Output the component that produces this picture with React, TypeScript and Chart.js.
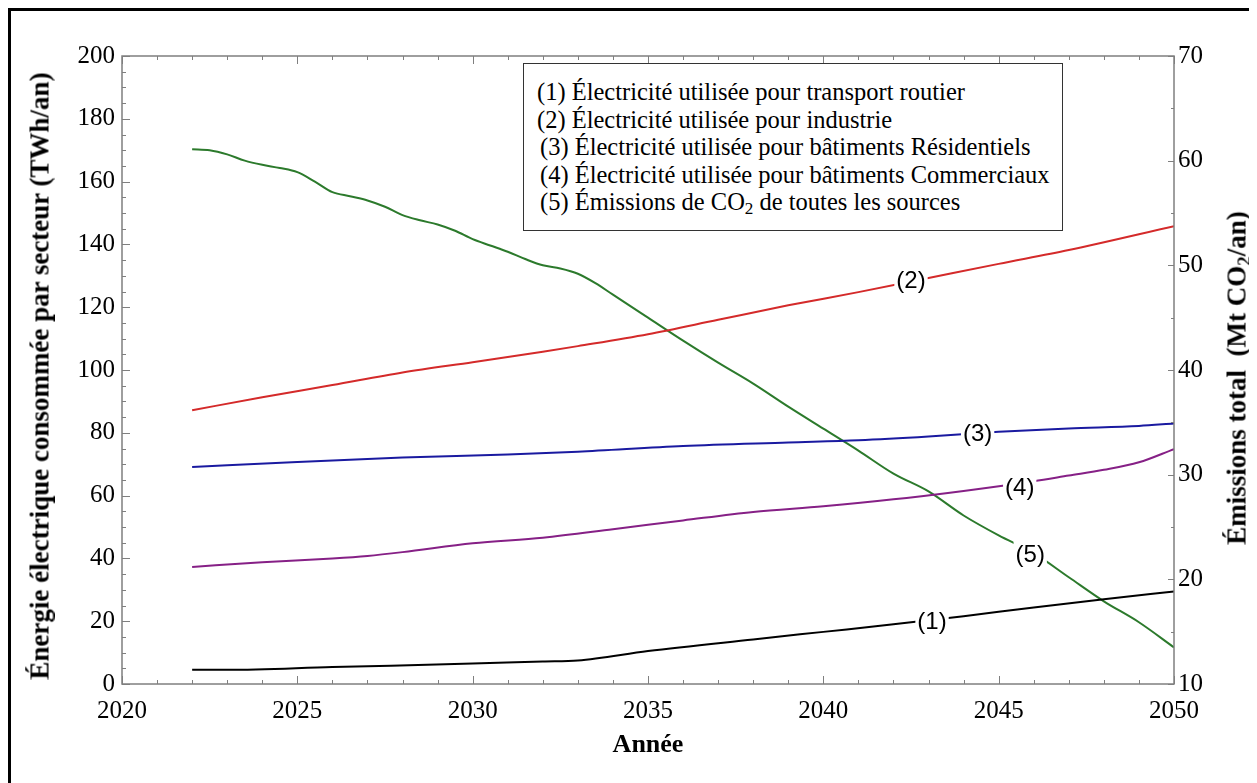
import React, { useEffect, useRef } from "react";
import { Chart, registerables } from "chart.js";
Chart.register(...registerables);

// ---------- DATA ----------
const xTickMin = 2020;
const xTickMax = 2050;
const leftMin = 0;
const leftMax = 200;
const rightMin = 10;
const rightMax = 70;

const transportYears = [2022, 2023, 2026, 2030, 2032, 2033, 2035, 2038, 2040, 2042, 2044, 2046, 2048, 2050];
const transportValues = [4.5, 4.5, 5.4, 6.5, 7.2, 7.5, 10.5, 14.2, 16.6, 19.0, 21.6, 24.4, 27.0, 29.5];

const industryYears = [2022, 2024, 2026, 2028, 2030, 2032, 2033, 2035, 2037, 2039, 2041, 2043, 2045, 2047, 2050];
const industryValues = [87.2, 91.3, 95.2, 99.2, 102.5, 105.8, 107.6, 111.4, 116.0, 120.6, 124.8, 129.3, 133.8, 138.2, 145.8];

const residentialYears = [2022, 2025, 2028, 2031, 2033, 2036, 2039, 2041, 2043, 2045, 2047, 2049, 2050];
const residentialValues = [69.1, 70.7, 72.1, 73.1, 74.0, 75.8, 76.9, 77.6, 78.8, 80.3, 81.4, 82.2, 83.0];

const commercialYears = [2022, 2024, 2026, 2027, 2028, 2030, 2032, 2034, 2036, 2038, 2040, 2042, 2044, 2046, 2047, 2048, 2049, 2050];
const commercialValues = [37.3, 38.8, 40.0, 40.8, 42.0, 44.8, 46.6, 49.3, 52.1, 54.8, 56.6, 58.8, 61.5, 64.6, 66.4, 68.2, 70.6, 74.8];

const emissionsYears = [
  2022, 2022.5, 2023, 2023.5, 2024, 2024.5, 2025, 2025.5, 2026, 2026.5, 2027, 2027.5, 2028, 2028.5,
  2029, 2029.5, 2030, 2030.5, 2031, 2031.5, 2032, 2032.5, 2033, 2033.5, 2034, 2035, 2036, 2037,
  2038, 2039, 2040, 2041, 2042, 2043, 2044, 2045, 2046, 2047, 2048, 2049, 2050,
];
const emissionsValues = [
  61.1, 61.0, 60.6, 60.0, 59.6, 59.3, 58.9, 58.0, 57.0, 56.6, 56.2, 55.6, 54.8, 54.3,
  53.9, 53.3, 52.5, 51.9, 51.3, 50.6, 50.0, 49.7, 49.2, 48.3, 47.2, 45.0, 42.8, 40.7,
  38.7, 36.5, 34.4, 32.3, 30.1, 28.4, 26.1, 24.2, 22.5, 20.2, 17.9, 15.9, 13.5,
];

const seriesNames = [
  "Électricité utilisée pour transport routier",
  "Électricité utilisée pour industrie",
  "Électricité utilisée pour bâtiments Résidentiels",
  "Électricité utilisée pour bâtiments Commerciaux",
  "Émissions de CO2 de toutes les sources",
];
const legendLabels = [
  "(1) Électricité utilisée pour transport routier",
  "(2) Électricité utilisée pour industrie",
  "(3) Électricité utilisée pour bâtiments Résidentiels",
  "(4) Électricité utilisée pour bâtiments Commerciaux",
  "(5) Émissions de CO2 de toutes les sources",
];

const inlineLabelTexts = ["(1)", "(2)", "(3)", "(4)", "(5)"];
const inlineLabelYears = [2043.1, 2042.5, 2044.4, 2045.6, 2045.9];
const inlineLabelValues = [20.0, 128.7, 79.9, 62.7, 22.4];
const inlineLabelAxes = ["y", "y", "y", "y", "y2"];

const xAxisTitle = "Année";
const leftAxisTitle = "Énergie électrique consommée par secteur (TWh/an)";
const rightAxisTitleA = "Émissions total  (Mt CO";
const rightAxisTitleB = "2";
const rightAxisTitleC = "/an)";

// ---------- STYLE ----------
const SERIF = '"Liberation Serif", "Times New Roman", Times, serif';
const SANS = '"Liberation Sans", Arial, Helvetica, sans-serif';
const AXIS_COLOR = "#7f7f7f";
const colors = ["#000000", "#d42a2a", "#1a1aa0", "#862086", "#2c7a2c"];

function pts(xs: number[], ys: number[]) {
  return xs.map((x, i) => ({ x, y: ys[i] }));
}

const framePlugin = {
  id: "frameTicks",
  afterDatasetsDraw(chart: any) {
    const { ctx, chartArea: a, scales } = chart;
    const sx = scales.x, sy = scales.y, sy2 = scales.y2;
    ctx.save();
    // inline labels
    ctx.font = `24px ${SANS}`;
    ctx.textAlign = "center";
    ctx.textBaseline = "middle";
    inlineLabelTexts.forEach((t, i) => {
      const px = sx.getPixelForValue(inlineLabelYears[i]);
      const py = scales[inlineLabelAxes[i]].getPixelForValue(inlineLabelValues[i]);
      const w = ctx.measureText(t).width;
      ctx.fillStyle = "#ffffff";
      ctx.fillRect(px - w / 2 - 2, py - 14, w + 4, 28);
      ctx.fillStyle = "#000000";
      ctx.fillText(t, px, py + 1);
    });
    // frame
    ctx.strokeStyle = AXIS_COLOR;
    ctx.lineWidth = 1.5;
    ctx.strokeRect(a.left, a.top, a.right - a.left, a.bottom - a.top);
    ctx.lineWidth = 1;
    ctx.beginPath();
    const MAJ = 8, MIN = 4;
    for (let v = xTickMin; v <= xTickMax; v += 1) {
      const p = Math.round(sx.getPixelForValue(v)) + 0.5;
      const len = v % 5 === 0 ? MAJ : MIN;
      ctx.moveTo(p, a.bottom); ctx.lineTo(p, a.bottom - len);
      ctx.moveTo(p, a.top); ctx.lineTo(p, a.top + len);
    }
    for (let v = leftMin; v <= leftMax; v += 5) {
      const p = Math.round(sy.getPixelForValue(v)) + 0.5;
      const len = v % 20 === 0 ? MAJ : MIN;
      ctx.moveTo(a.left, p); ctx.lineTo(a.left + len, p);
    }
    for (let v = rightMin; v <= rightMax; v += 5) {
      const p = Math.round(sy2.getPixelForValue(v)) + 0.5;
      const len = v % 10 === 0 ? MAJ - 2 : MIN - 1;
      ctx.moveTo(a.right, p); ctx.lineTo(a.right - len, p);
    }
    ctx.stroke();
    ctx.restore();
  },
};

const subStyle: React.CSSProperties = { fontSize: "0.7em", verticalAlign: "-0.25em", lineHeight: 0 };

export default function App() {
  const ref = useRef<HTMLCanvasElement>(null);
  useEffect(() => {
    const series = [
      pts(transportYears, transportValues),
      pts(industryYears, industryValues),
      pts(residentialYears, residentialValues),
      pts(commercialYears, commercialValues),
      pts(emissionsYears, emissionsValues),
    ];
    const chart = new Chart(ref.current!, {
      type: "line",
      data: {
        datasets: series.map((d, i) => ({
          label: seriesNames[i],
          data: d,
          borderColor: colors[i],
          backgroundColor: colors[i],
          borderWidth: 2,
          pointRadius: 0,
          tension: 0.4,
          cubicInterpolationMode: "monotone" as const,
          yAxisID: i === 4 ? "y2" : "y",
          fill: false,
        })),
      },
      options: {
        animation: false,
        responsive: true,
        maintainAspectRatio: false,
        layout: { padding: { top: 45, left: 0, right: 0, bottom: 0 } },
        plugins: { legend: { display: false }, tooltip: { enabled: false } },
        scales: {
          x: {
            type: "linear",
            position: "bottom",
            min: xTickMin,
            max: xTickMax,
            grid: { display: false, drawTicks: false },
            border: { display: false },
            ticks: {
              stepSize: 5,
              padding: 12,
              color: "#000",
              font: { family: SERIF, size: 25 },
              maxRotation: 0,
              callback: (v: any) => String(v),
            },
            title: {
              display: true,
              text: xAxisTitle,
              color: "#000",
              font: { family: SERIF, size: 26, weight: "bold" },
              padding: { top: 0, bottom: 22 },
            },
            afterFit: (s: any) => { s.height = 99; },
          },
          y: {
            type: "linear",
            position: "left",
            min: leftMin,
            max: leftMax,
            grid: { display: false, drawTicks: false },
            border: { display: false },
            ticks: {
              stepSize: 20,
              padding: 7,
              color: "#000",
              font: { family: SERIF, size: 25 },
              callback: (v: any) => String(v),
            },
            afterFit: (s: any) => { s.width = 111; },
          },
          y2: {
            type: "linear",
            position: "right",
            min: rightMin,
            max: rightMax,
            grid: { display: false, drawTicks: false },
            border: { display: false },
            ticks: {
              stepSize: 10,
              padding: 4,
              color: "#000",
              font: { family: SERIF, size: 25 },
              callback: (v: any) => String(v),
            },
            afterFit: (s: any) => { s.width = 83; },
          },
        },
      },
      plugins: [framePlugin],
    } as any);
    return () => chart.destroy();
  }, []);

  const renderLegendLine = (t: string) => {
    const idx = t.indexOf("CO2");
    if (idx < 0) return t;
    return (
      <>
        {t.slice(0, idx)}CO<sub style={subStyle}>2</sub>
        {t.slice(idx + 3)}
      </>
    );
  };

  const rotatedTitle: React.CSSProperties = {
    position: "absolute",
    transform: "translate(-50%, -50%) rotate(-90deg)",
    fontFamily: SERIF,
    fontWeight: "bold",
    fontSize: 27,
    lineHeight: "27px",
    whiteSpace: "pre",
    color: "#000",
  };

  return (
    <div
      style={{
        position: "relative",
        width: 1249,
        height: 775,
        boxSizing: "border-box",
        borderLeft: "3px solid #000",
        borderTop: "3px solid #000",
        overflow: "hidden",
        background: "#fff",
      }}
    >
      <div style={{ position: "absolute", left: 0, top: 0, width: 1246, height: 772 }}>
        <canvas ref={ref} />
      </div>
      <div
        style={{
          position: "absolute",
          left: 512,
          top: 52,
          border: "1.5px solid #333",
          background: "#fff",
          padding: "14px 12px 14px 13px",
          fontFamily: SERIF,
          fontSize: 24.5,
          lineHeight: "27.5px",
          color: "#000",
          whiteSpace: "nowrap",
        }}
      >
        {legendLabels.map((t, i) => (
          <div key={i} style={{ paddingLeft: i >= 2 ? 3 : 0 }}>
            {renderLegendLine(t)}
          </div>
        ))}
      </div>
      <div style={{ ...rotatedTitle, left: 29, top: 365 }}>{leftAxisTitle}</div>
      <div style={{ ...rotatedTitle, left: 1226, top: 367 }}>
        {rightAxisTitleA}
        <sub style={subStyle}>{rightAxisTitleB}</sub>
        {rightAxisTitleC}
      </div>
    </div>
  );
}
